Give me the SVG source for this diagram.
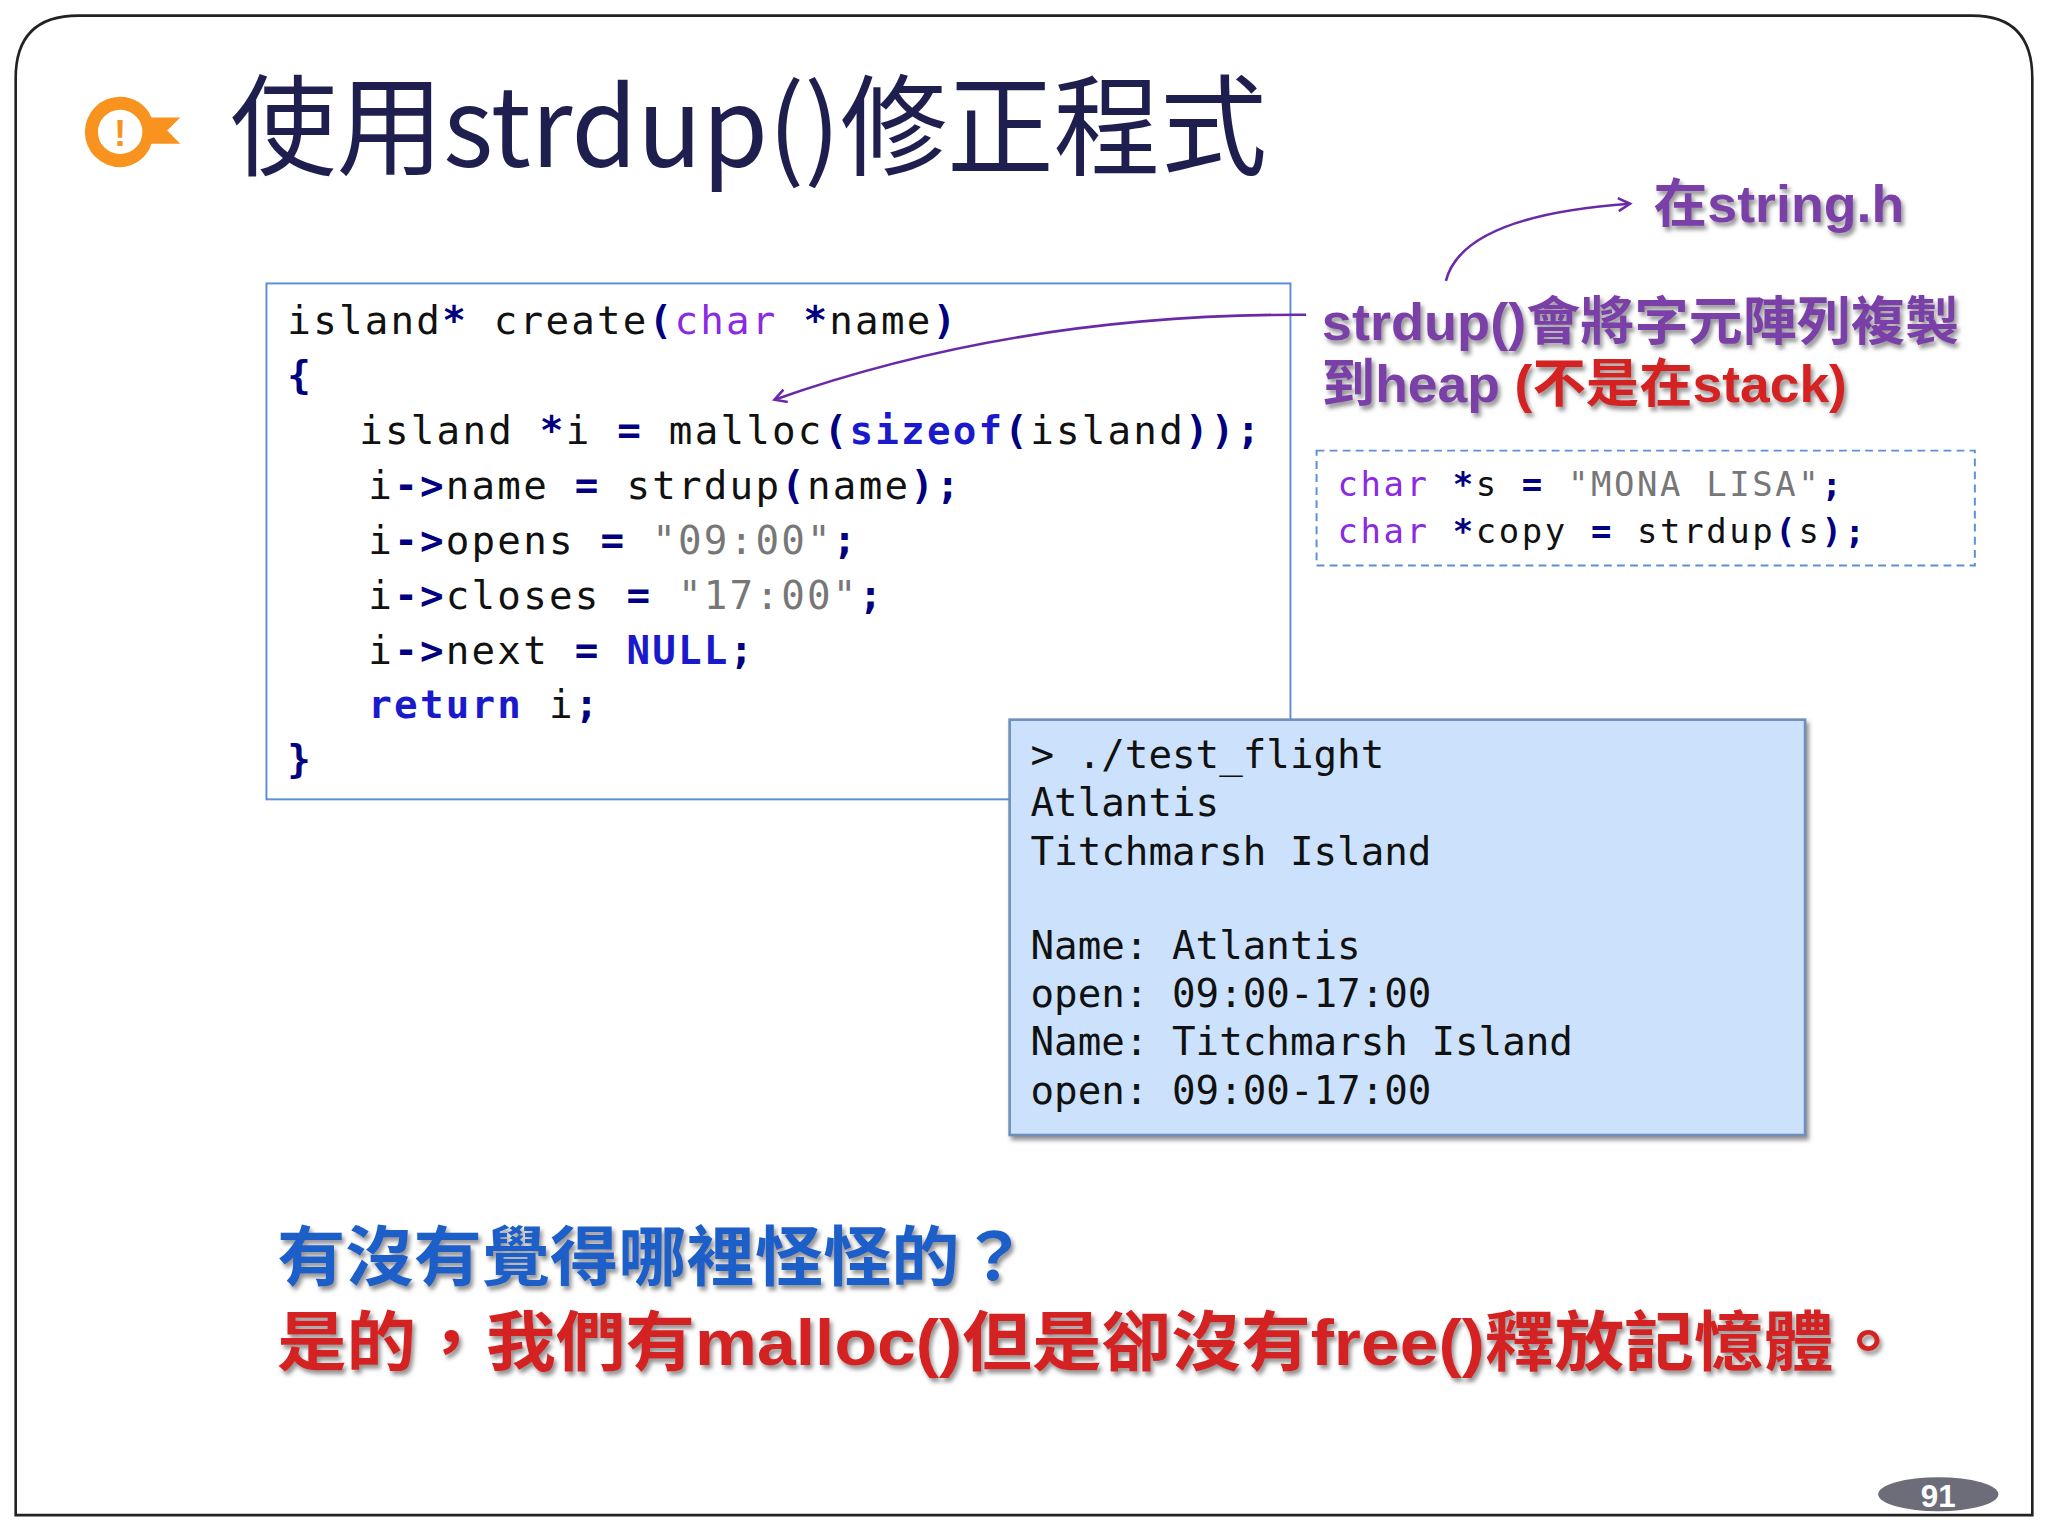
<svg xmlns="http://www.w3.org/2000/svg" width="2048" height="1536" viewBox="0 0 2048 1536">
<style>
.code{font-family:"DejaVu Sans Mono","Liberation Mono",monospace;font-size:30px;fill:#111;letter-spacing:1.7px}
.kw{fill:#1a1acc;font-weight:bold}
.ty{fill:#8a2be2}
.st{fill:#777}
.op{fill:#000080;font-weight:bold}
.term{font-family:"DejaVu Sans Mono","Liberation Mono",monospace;font-size:30px;fill:#111}
.cjk{font-family:"Liberation Sans","Noto Sans CJK TC",sans-serif;font-weight:bold}
</style>
<defs>
<marker id="ah" markerWidth="12" markerHeight="12" refX="10" refY="6" orient="auto" markerUnits="userSpaceOnUse"><path d="M1,1 L10,6 L1,11" fill="none" stroke="#6a2aa8" stroke-width="2"/></marker>
<filter id="sh" x="-5%" y="-5%" width="110%" height="120%"><feDropShadow dx="2" dy="3" stdDeviation="1.5" flood-color="#777" flood-opacity="0.8"/></filter>
</defs>
<rect width="2048" height="1536" fill="#fff"/>
<g transform="scale(1.30612)">
<g id="frame"><path d="M60,12 H1510 Q1556,12 1556,60 V1160 H12 V60 Q12,12 60,12 Z" fill="#fff" stroke="#222" stroke-width="2"/></g>
<g id="icon"><path d="M92,74 a26,26 0 1,0 0,54 a26,26 0 0,0 24,-18 h22 l-10,-10 l10,-10 h-22 a26,26 0 0,0 -24,-16z" fill="#f7931e"/><circle cx="92" cy="101" r="19" fill="#fff" stroke="#f7931e" stroke-width="4"/><text x="92" y="112" text-anchor="middle" font-family="Liberation Sans,sans-serif" font-weight="bold" font-size="28" fill="#f7931e">!</text></g>
<g id="title"><text x="176" y="128" font-family="'Noto Sans CJK TC',sans-serif" font-size="84" fill="#1f1f4f" textLength="794" lengthAdjust="spacingAndGlyphs">使用strdup()修正程式</text></g>
<g id="codebox">
<rect x="204" y="217" width="784" height="395" fill="#fff" stroke="#5b8fd6" stroke-width="1.5"/>
<text class="code" x="220" y="256">island<tspan class="op">*</tspan> create<tspan class="op">(</tspan><tspan class="ty">char</tspan> <tspan class="op">*</tspan>name<tspan class="op">)</tspan></text>
<text class="code" x="220" y="298"><tspan class="op">{</tspan></text>
<text class="code" x="275" y="340">island <tspan class="op">*</tspan>i <tspan class="op">=</tspan> malloc<tspan class="op">(</tspan><tspan class="kw">sizeof</tspan><tspan class="op">(</tspan>island<tspan class="op">));</tspan></text>
<text class="code" x="282" y="382">i<tspan class="op">-&gt;</tspan>name <tspan class="op">=</tspan> strdup<tspan class="op">(</tspan>name<tspan class="op">);</tspan></text>
<text class="code" x="282" y="424">i<tspan class="op">-&gt;</tspan>opens <tspan class="op">=</tspan> <tspan class="st">"09:00"</tspan><tspan class="op">;</tspan></text>
<text class="code" x="282" y="466">i<tspan class="op">-&gt;</tspan>closes <tspan class="op">=</tspan> <tspan class="st">"17:00"</tspan><tspan class="op">;</tspan></text>
<text class="code" x="282" y="508">i<tspan class="op">-&gt;</tspan>next <tspan class="op">=</tspan> <tspan class="kw">NULL</tspan><tspan class="op">;</tspan></text>
<text class="code" x="282" y="550"><tspan class="kw">return</tspan> i<tspan class="op">;</tspan></text>
<text class="code" x="220" y="592"><tspan class="op">}</tspan></text>
</g>
<g id="snippet">
<rect x="1008" y="345" width="504" height="88" fill="#fff" stroke="#5b8fd6" stroke-width="1.5" stroke-dasharray="6,4"/>
<text class="code" x="1024" y="380" style="font-size:26px;letter-spacing:2px"><tspan class="ty">char</tspan> <tspan class="op">*</tspan>s <tspan class="op">=</tspan> <tspan class="st">"MONA LISA"</tspan><tspan class="op">;</tspan></text>
<text class="code" x="1024" y="416" style="font-size:26px;letter-spacing:2px"><tspan class="ty">char</tspan> <tspan class="op">*</tspan>copy <tspan class="op">=</tspan> strdup<tspan class="op">(</tspan>s<tspan class="op">);</tspan></text>
</g>
<g id="terminal">
<rect x="773" y="551" width="609" height="318" fill="#cce1fb" stroke="#6f8fb8" stroke-width="2" filter="url(#sh)"/>
<text class="term" x="789" y="588">&gt; ./test_flight</text>
<text class="term" x="789" y="625">Atlantis</text>
<text class="term" x="789" y="662">Titchmarsh Island</text>
<text class="term" x="789" y="734">Name: Atlantis</text>
<text class="term" x="789" y="771">open: 09:00-17:00</text>
<text class="term" x="789" y="808">Name: Titchmarsh Island</text>
<text class="term" x="789" y="845">open: 09:00-17:00</text>
</g>
<g id="notes" filter="url(#sh)">
<text class="cjk" x="1266" y="170" font-size="40" fill="#7a3fa8" textLength="192" lengthAdjust="spacingAndGlyphs">在string.h</text>
<text class="cjk" x="1012" y="260" font-size="40" fill="#7a3fa8" textLength="488" lengthAdjust="spacingAndGlyphs">strdup()會將字元陣列複製</text>
<text class="cjk" x="1012" y="308" font-size="40" fill="#7a3fa8" textLength="402" lengthAdjust="spacingAndGlyphs">到heap <tspan fill="#d42020">(不是在stack)</tspan></text>
<text class="cjk" x="212" y="980" font-size="50" fill="#1a5fc8" textLength="575" lengthAdjust="spacingAndGlyphs">有沒有覺得哪裡怪怪的？</text>
<text class="cjk" x="212" y="1045" font-size="50" fill="#d42020" textLength="1245" lengthAdjust="spacingAndGlyphs">是的，我們有malloc()但是卻沒有free()釋放記憶體。</text>
</g>
<g id="connectors" fill="none" stroke="#6a2aa8" stroke-width="2">
<path d="M1107,215 Q1120,165 1248,156" marker-end="url(#ah)"/>
<path d="M1000,241 Q780,240 593,306" marker-end="url(#ah)"/>
</g>
<g id="pagenum"><ellipse cx="1484" cy="1144" rx="46" ry="13" fill="#6d6d7a"/><text x="1484" y="1154" text-anchor="middle" font-family="Liberation Sans,sans-serif" font-weight="bold" font-size="24" fill="#fff">91</text></g>
</g>
</svg>
